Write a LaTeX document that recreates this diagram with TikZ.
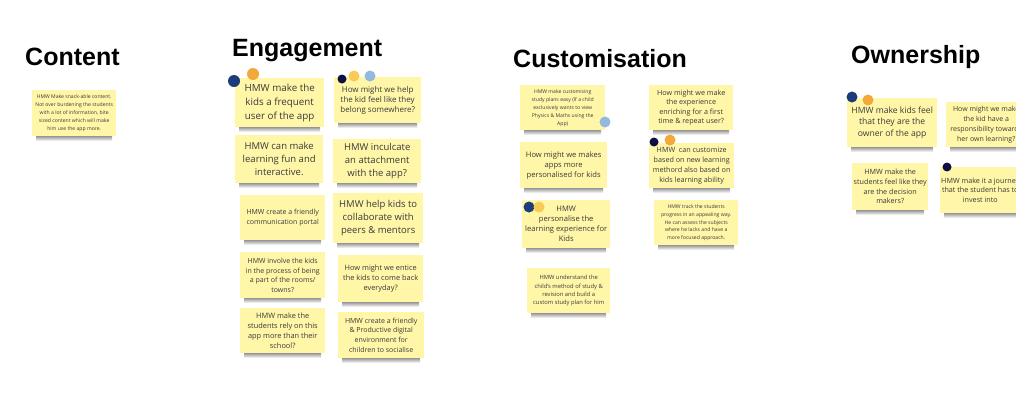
\documentclass[tikz,border=0pt]{standalone}
\usepackage{fontspec}
\setmainfont{Open Sans}
\newfontfamily\headfont{Liberation Sans}
\definecolor{notefill}{HTML}{FFF6A8}
\definecolor{notetext}{HTML}{3A3A3A}
\definecolor{navyc}{HTML}{1D3C7A}
\definecolor{darknavy}{HTML}{0E1042}
\definecolor{orangec}{HTML}{F2A83A}
\definecolor{yellowc}{HTML}{F7CB55}
\definecolor{lightblue}{HTML}{93B9DF}
\tikzset{
  stickynote/.style={fill=notefill, inner sep=1pt, align=center, text=notetext, anchor=north west},
  heading/.style={font=\headfont\bfseries\fontsize{25}{30}\selectfont, anchor=base west, inner sep=0pt, text=black},
}
% name, x, y, w, h, size, leading, text
\newcommand\sticky[8]{%
  \shade[top color=black!50, bottom color=white] (#2+4,#3+#5-1) rectangle (#2+#4-4,#3+#5+5);
  \node[stickynote, minimum width=#4pt, minimum height=#5pt, font=\fontsize{#6}{#7}\selectfont] (#1) at (#2,#3) {#8};
}
\begin{document}
\begin{tikzpicture}[x=1pt,y=-1pt]
\fill[white] (0,0) rectangle (1016,402);
\useasboundingbox (0,0) rectangle (1016,402);
\clip (0,0) rectangle (1016,402);

% headings
\node[heading] (hcontent) at (25,65) {Content};
\node[heading] (hengage) at (232,56) {Engagement};
\node[heading] (hcustom) at (513,67) {Customisation};
\node[heading] (hown) at (851,63) {Ownership};

% Content
\sticky{n0}{32}{90}{84}{46}{5.1}{7.8}{HMW Make snack-able content.\\Not over burdening the students\\with a lot of information, bite\\sized content which will make\\him use the app more.}

% Engagement
\sticky{e1}{235}{78}{89}{49}{9.8}{14}{HMW make the\\kids a frequent\\user of the app}
\sticky{e2}{334}{77}{87}{46}{8}{10}{How might we help\\the kid feel like they\\belong somewhere?}
\sticky{e3}{235}{135}{88}{48}{9.5}{13}{HMW can make\\learning fun and\\interactive.}
\sticky{e4}{333}{139}{88}{44}{9.5}{13}{HMW inculcate\\an attachment\\with the app?}
\sticky{e5}{240}{195}{85}{45}{7}{10}{HMW create a friendly\\communication portal}
\sticky{e6}{333}{193}{90}{50}{9.5}{13}{HMW help kids to\\collaborate with\\peers \& mentors}
\sticky{e7}{240}{252}{85}{46}{7}{9.6}{HMW involve the kids\\in the process of being\\a part of the rooms/\\towns?}
\sticky{e8}{338}{255}{85}{47}{7.4}{10}{How might we entice\\the kids to come back\\everyday?}
\sticky{e9}{240}{308}{85}{45}{7.4}{10}{HMW make the\\students rely on this\\app more than their\\school?}
\sticky{e10}{338}{312}{86}{46}{7}{9.8}{HMW create a friendly\\\& Productive digital\\environment for\\children to socialise}

\fill[navyc] (234,81) circle[radius=6pt];
\fill[orangec] (253,74) circle[radius=6pt];
\fill[darknavy] (342,79) circle[radius=4.5pt];
\fill[yellowc] (354,76) circle[radius=5.5pt];
\fill[lightblue] (370,76) circle[radius=5.5pt];

% Customisation
\sticky{c1}{520}{85}{85}{45}{5.1}{8}{HMW make customising\\study plans easy (If a child\\exclusively wants to view\\Physics \& Maths using the\\App)}
\sticky{c2}{649}{85}{84}{45}{7.2}{9.5}{How might we make\\the experience\\enriching for a first\\time \& repeat user?}
\sticky{c3}{520}{142}{87}{46}{7.6}{10}{How might we makes\\apps more\\personalised for kids}
\sticky{c4}{649}{143}{85}{45}{7.2}{10}{HMW~~can customize\\based on new learning\\methord also based on\\kids learning ability}
\sticky{c5}{522}{200}{88}{48}{7.6}{10}{HMW\\personalise the\\learning experience for\\Kids}
\sticky{c6}{654}{200}{84}{45}{5.1}{7.7}{HMW track the students\\progress in an appealing way.\\He can assess the subjects\\where he lacks and have a\\more focused approach.}
\sticky{c7}{527}{268}{83}{45}{5.8}{8.4}{HMW understand the\\child's method of study \&\\revision and build a\\custom study plan for him}

\fill[lightblue] (605,122) circle[radius=5.5pt];
\fill[darknavy] (654,142) circle[radius=4.5pt];
\fill[orangec] (670,140) circle[radius=5.5pt];
\fill[navyc] (529,207) circle[radius=5.5pt];
\fill[yellowc] (539,207) circle[radius=5.5pt];

% Ownership
\sticky{o1}{847}{98}{90}{49}{8.6}{11.5}{HMW make kids feel\\that they are the\\owner of the app}
\sticky{o2}{946}{102}{80}{45}{7}{9.8}{How might we make\\the kid have a\\responsibility towards\\her own learning?}
\sticky{o3}{852}{163}{76}{47}{7.2}{9.6}{HMW make the\\students feel like they\\are the decision\\makers?}
\sticky{o4}{940}{167}{80}{46}{7.2}{9.8}{HMW make it a journey\\that the student has to\\invest into}

\fill[navyc] (852,97) circle[radius=5.5pt];
\fill[orangec] (868,100) circle[radius=5.5pt];
\fill[darknavy] (947,167) circle[radius=4.5pt];
\end{tikzpicture}
\end{document}
